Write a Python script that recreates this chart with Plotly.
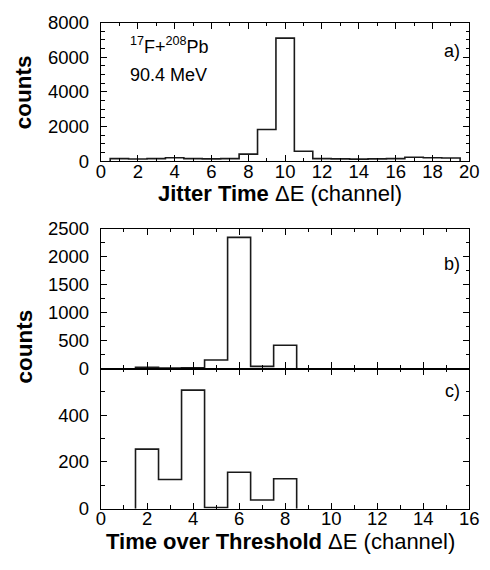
import numpy as np
import plotly.graph_objects as go

# ---- data ----
a_centers = list(range(1, 20))
a_counts = [150, 130, 150, 200, 150, 140, 150, 410, 1830, 7100, 580, 150, 140, 120, 140, 150, 230, 200, 190]

b_centers = [2, 3, 4, 5, 6, 7, 8]
b_counts = [25, 10, 15, 155, 2345, 40, 418]

c_centers = [2, 3, 4, 5, 6, 7, 8]
c_counts = [255, 125, 508, 5, 156, 37, 128]

a_xticks = list(range(0, 21, 2))
a_yticks = [0, 2000, 4000, 6000, 8000]
b_yticks = [0, 500, 1000, 1500, 2000, 2500]
c_yticks = [0, 200, 400]
bc_xticks = list(range(0, 17, 2))

W, H = 490, 570
FONT = "Liberation Sans, Arial, Helvetica, sans-serif"
LINE = "#1a1a1a"


def step_xy(centers, counts):
    c = np.asarray(centers, dtype=float)
    v = np.asarray(counts, dtype=float)
    edges = np.append(c - 0.5, c[-1] + 0.5)
    x = np.concatenate([[edges[0]], edges[:-1], [edges[-1], edges[-1]]])
    y = np.concatenate([[0], v, [v[-1], 0]])
    return x, y


fig = go.Figure()
for (cen, cnt, xa, ya) in [(a_centers, a_counts, "x", "y"),
                           (b_centers, b_counts, "x2", "y2"),
                           (c_centers, c_counts, "x3", "y3")]:
    sx, sy = step_xy(cen, cnt)
    fig.add_trace(go.Scatter(x=sx, y=sy, mode="lines", line=dict(color=LINE, width=1.6, shape="hv"),
                             xaxis=xa, yaxis=ya, showlegend=False, hoverinfo="skip"))


def py(px):
    return 1 - px / H


xdom = [99 / W, 479 / W]
axis_common = dict(showline=True, linecolor="black", linewidth=1.3, mirror="allticks",
                   ticks="inside", ticklen=6, tickwidth=1.2, tickcolor="black",
                   showgrid=False, zeroline=False,
                   tickfont=dict(family=FONT, size=18.5, color="black"))
minor_common = dict(ticklen=3.5, tickcolor="black", ticks="inside")

fig.update_layout(
    width=W, height=H, margin=dict(l=0, r=0, t=0, b=0),
    paper_bgcolor="white", plot_bgcolor="white",
    xaxis=dict(domain=xdom, anchor="y", range=[0, 20], tickvals=a_xticks, ticklabelstandoff=-7,
               minor=dict(dtick=1, **minor_common), **axis_common),
    yaxis=dict(domain=[py(156), py(12)], anchor="x", range=[0, 8000], tickvals=a_yticks,
               ticklabelstandoff=7, minor=dict(dtick=500, **minor_common), **axis_common),
    xaxis2=dict(domain=xdom, anchor="y2", range=[0, 16], tickvals=bc_xticks, showticklabels=False,
                minor=dict(dtick=1, **minor_common), **axis_common),
    yaxis2=dict(domain=[py(371.3), py(226)], anchor="x2", range=[0, 2500], tickvals=b_yticks,
                ticklabelstandoff=7, minor=dict(dtick=250, **minor_common), **axis_common),
    xaxis3=dict(domain=xdom, anchor="y3", range=[0, 16], tickvals=bc_xticks, ticklabelstandoff=-7,
                minor=dict(dtick=1, **minor_common), **axis_common),
    yaxis3=dict(domain=[py(516.7), py(371.3)], anchor="x3", range=[0, 600], tickvals=c_yticks,
                ticklabelstandoff=7, minor=dict(dtick=100, **minor_common), **axis_common),
)

ann = []


def add_text(text, x, y, size, xanchor="center", yanchor="middle", angle=0):
    ann.append(dict(text=text, x=x / W, y=py(y), xref="paper", yref="paper", showarrow=False,
                    xanchor=xanchor, yanchor=yanchor, textangle=angle,
                    font=dict(family=FONT, size=size, color="black")))


add_text("<b>counts</b>", 20, 84, 22.5, angle=-90)
add_text("<b>counts</b>", 20, 348, 22.5, angle=-90)
add_text("<b>Jitter Time</b> ΔE (channel)", 284, 190, 22)
add_text("<b>Time over Threshold</b> ΔE (channel)", 284, 551, 22)
add_text("<sup>17</sup>F+<sup>208</sup>Pb", 127, 36, 18, xanchor="left")
add_text("90.4 MeV", 127, 66, 18, xanchor="left")
add_text("a)", 471, 42, 18, xanchor="right")
add_text("b)", 471, 263, 18, xanchor="right")
add_text("c)", 471, 395, 18, xanchor="right")
fig.update_layout(annotations=ann)

fig.write_html("out.html")
